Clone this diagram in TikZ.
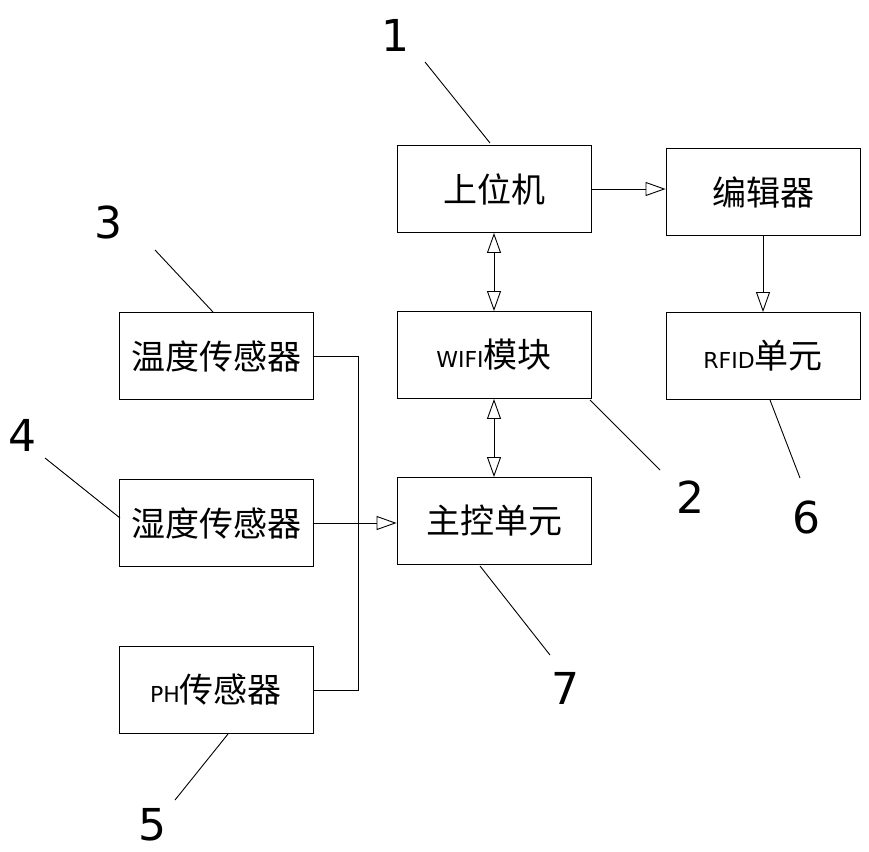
\documentclass[tikz,border=0pt]{standalone}
\usepackage{fontspec}
\setmainfont{DejaVu Sans}
\newfontfamily\cjk{Noto Sans CJK SC}
\usetikzlibrary{arrows.meta,positioning}
\begin{document}
\begin{tikzpicture}[x=1pt,y=-1pt,line width=0.9pt,
    box/.style={draw,minimum width=194pt,minimum height=87pt,inner sep=0pt,font=\cjk\fontsize{34}{34}\selectfont},
    num/.style={font=\fontsize{44}{44}\selectfont},
    tip/.style={-{Triangle[open,length=20pt,width=14pt]}},
    dtip/.style={{Triangle[open,length=20pt,width=14pt]}-{Triangle[open,length=20pt,width=14pt]}}]
  \useasboundingbox (0,0) rectangle (869,851);
  \node[box] (pc) at (494,189) {上位机};
  \node[box] (enc) at (763,192) {编辑器};
  \node[box] (wifi) at (494,355) {{\rmfamily\fontsize{22}{22}\selectfont WIFI}模块};
  \node[box] (rfid) at (763,356) {{\rmfamily\fontsize{22}{22}\selectfont RFID}单元};
  \node[box] (mcu) at (494,521) {主控单元};
  \node[box] (temp) at (216,356) {温度传感器};
  \node[box] (hum) at (216,523) {湿度传感器};
  \node[box] (ph) at (216,690) {{\rmfamily\fontsize{22}{22}\selectfont PH}传感器};
  % connectors
  \draw[tip] (pc.east) -- (pc.east -| enc.west);
  \draw[tip] (enc.south) -- (rfid.north);
  \draw[dtip] (pc.south) -- (wifi.north);
  \draw[dtip] (wifi.south) -- (mcu.north);
  \draw[tip] (hum.east) -- (hum.east -| mcu.west);
  \draw (temp.east) -- (358,356) -- (358,690) -- (ph.east);
  % reference numbers
  \node[num] (n1) at (395,35) {1};
  \node[num] (n2) at (690,497) {2};
  \node[num] (n3) at (108,222) {3};
  \node[num] (n4) at (22,435) {4};
  \node[num] (n5) at (152,825) {5};
  \node[num] (n6) at (806,517) {6};
  \node[num] (n7) at (565,688) {7};
  \draw (425,62) -- (490,143);
  \draw (590,400) -- (660,470);
  \draw (155,250) -- (213,312);
  \draw (45,458) -- (120,518);
  \draw (175,800) -- (228,734);
  \draw (770,400) -- (800,478);
  \draw (480,566) -- (550,655);
\end{tikzpicture}
\end{document}
